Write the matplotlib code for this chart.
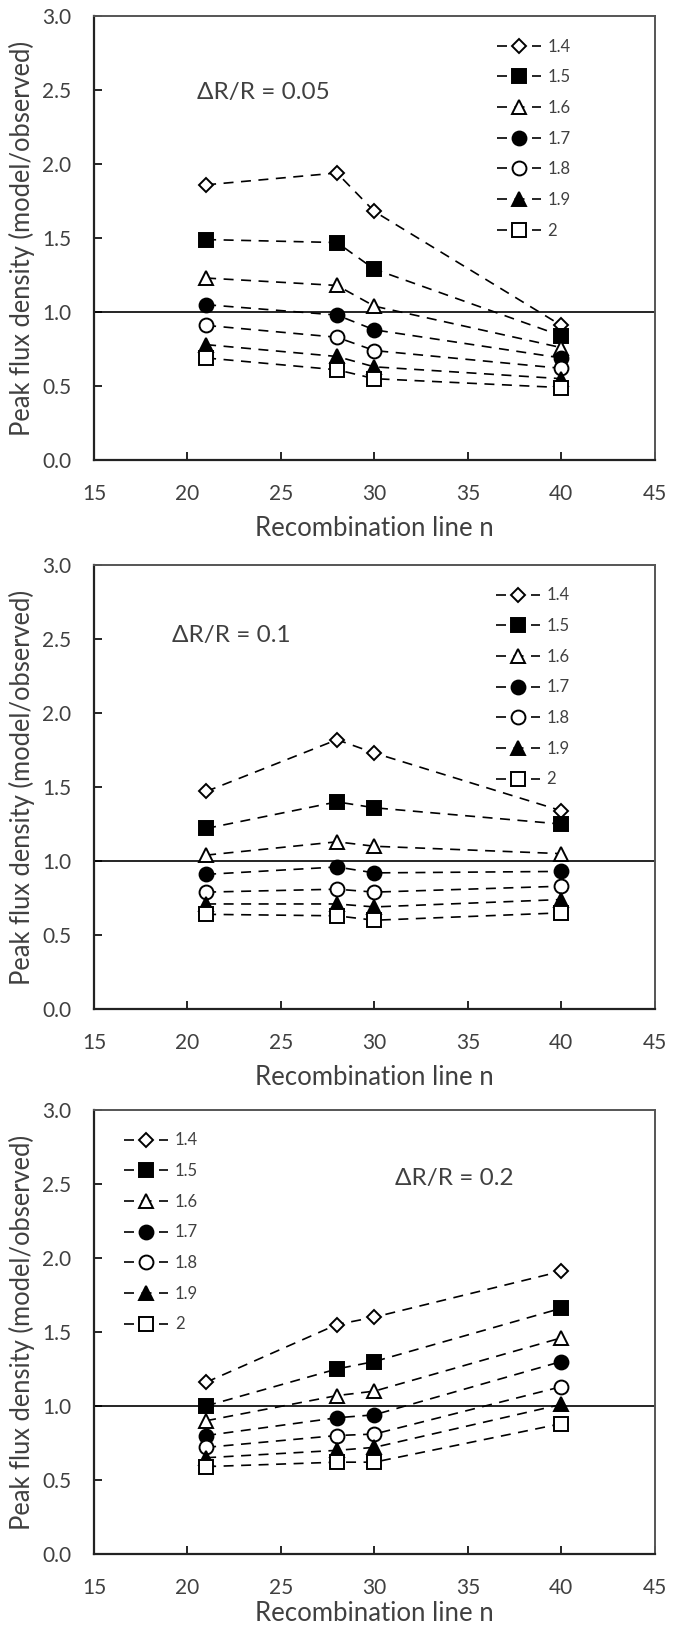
import matplotlib
matplotlib.use("Agg")
import matplotlib.pyplot as plt

plt.rcParams['font.family'] = ['Lato', 'DejaVu Sans']

n_lines = [21, 28, 30, 40]
labels = ['1.4', '1.5', '1.6', '1.7', '1.8', '1.9', '2']

# dR/R = 0.05
p005 = [
    [1.86, 1.94, 1.68, 0.91],
    [1.49, 1.47, 1.29, 0.84],
    [1.23, 1.18, 1.04, 0.76],
    [1.05, 0.98, 0.88, 0.69],
    [0.91, 0.83, 0.74, 0.62],
    [0.78, 0.70, 0.63, 0.55],
    [0.69, 0.61, 0.55, 0.49],
]
# dR/R = 0.1
p01 = [
    [1.47, 1.82, 1.73, 1.34],
    [1.22, 1.40, 1.36, 1.25],
    [1.04, 1.13, 1.10, 1.05],
    [0.91, 0.96, 0.92, 0.93],
    [0.79, 0.81, 0.79, 0.83],
    [0.71, 0.71, 0.69, 0.74],
    [0.64, 0.63, 0.60, 0.65],
]
# dR/R = 0.2
p02 = [
    [1.16, 1.55, 1.60, 1.91],
    [1.00, 1.25, 1.30, 1.66],
    [0.90, 1.07, 1.10, 1.46],
    [0.80, 0.92, 0.94, 1.30],
    [0.72, 0.80, 0.81, 1.13],
    [0.65, 0.70, 0.72, 1.01],
    [0.59, 0.62, 0.62, 0.88],
]

panels = [
    (p005, '\u0394R/R = 0.05', (0.184, 0.827), (0.7188, 0.9495), 9),
    (p01, '\u0394R/R = 0.1', (0.139, 0.842), (0.7168, 0.9495), 9),
    (p02, '\u0394R/R = 0.2', (0.537, 0.845), (0.0543, 0.9495), 2.5),
]

markers = [('D', 'white', 7), ('s', 'black', 10), ('^', 'white', 9.5), ('o', 'black', 10),
           ('o', 'white', 10), ('^', 'black', 9.5), ('s', 'white', 10)]

txt = '#404040'
fig = plt.figure(figsize=(6.94, 16.28), dpi=100)
bottoms = [0.7174, 0.3802, 0.0455]

for (data, title, tpos, lpos, xpad), b in zip(panels, bottoms):
    ax = fig.add_axes([0.1354, b, 0.808, 0.2727])
    for vals, lab, (m, fc, ms) in zip(data, labels, markers):
        ax.plot(n_lines, vals, linestyle=(0, (6, 4.5)), color='black', lw=1.2,
                marker=m, markersize=ms, markerfacecolor=fc, markeredgecolor='black',
                markeredgewidth=1.4, label=lab)
    ax.axhline(1.0, color='black', lw=1.2, zorder=1)
    ax.set_xlim(15, 45)
    ax.set_ylim(0, 3)
    ax.set_xticks(range(15, 46, 5))
    ax.set_yticks([0, 0.5, 1.0, 1.5, 2.0, 2.5, 3.0])
    ax.set_yticklabels(['%.1f' % v for v in ax.get_yticks()])
    ax.tick_params(direction='in', length=6, width=1.2, labelsize=15, colors='black',
                   labelcolor=txt)
    ax.tick_params(axis='x', pad=17)
    ax.tick_params(axis='y', pad=16.5)
    for side in ['left', 'bottom']:
        ax.spines[side].set_linewidth(1.6)
        ax.spines[side].set_color('#222222')
    for side in ['top', 'right']:
        ax.spines[side].set_linewidth(1.4)
        ax.spines[side].set_color('#555555')
    ax.set_xlabel('Recombination line n', fontsize=18.5, color=txt, labelpad=xpad)
    ax.set_ylabel('Peak flux density (model/observed)', fontsize=18.4, color=txt, labelpad=5)
    ax.text(tpos[0], tpos[1], title, transform=ax.transAxes, fontsize=17.5, color=txt,
            va='center', ha='left')
    leg = ax.legend(loc='upper left', bbox_to_anchor=lpos, frameon=False, fontsize=12,
                    handlelength=2.63, handletextpad=0.4, labelspacing=0.88,
                    borderaxespad=0, borderpad=0)
    for t in leg.get_texts():
        t.set_color(txt)

fig.savefig('out.png', dpi=100)
